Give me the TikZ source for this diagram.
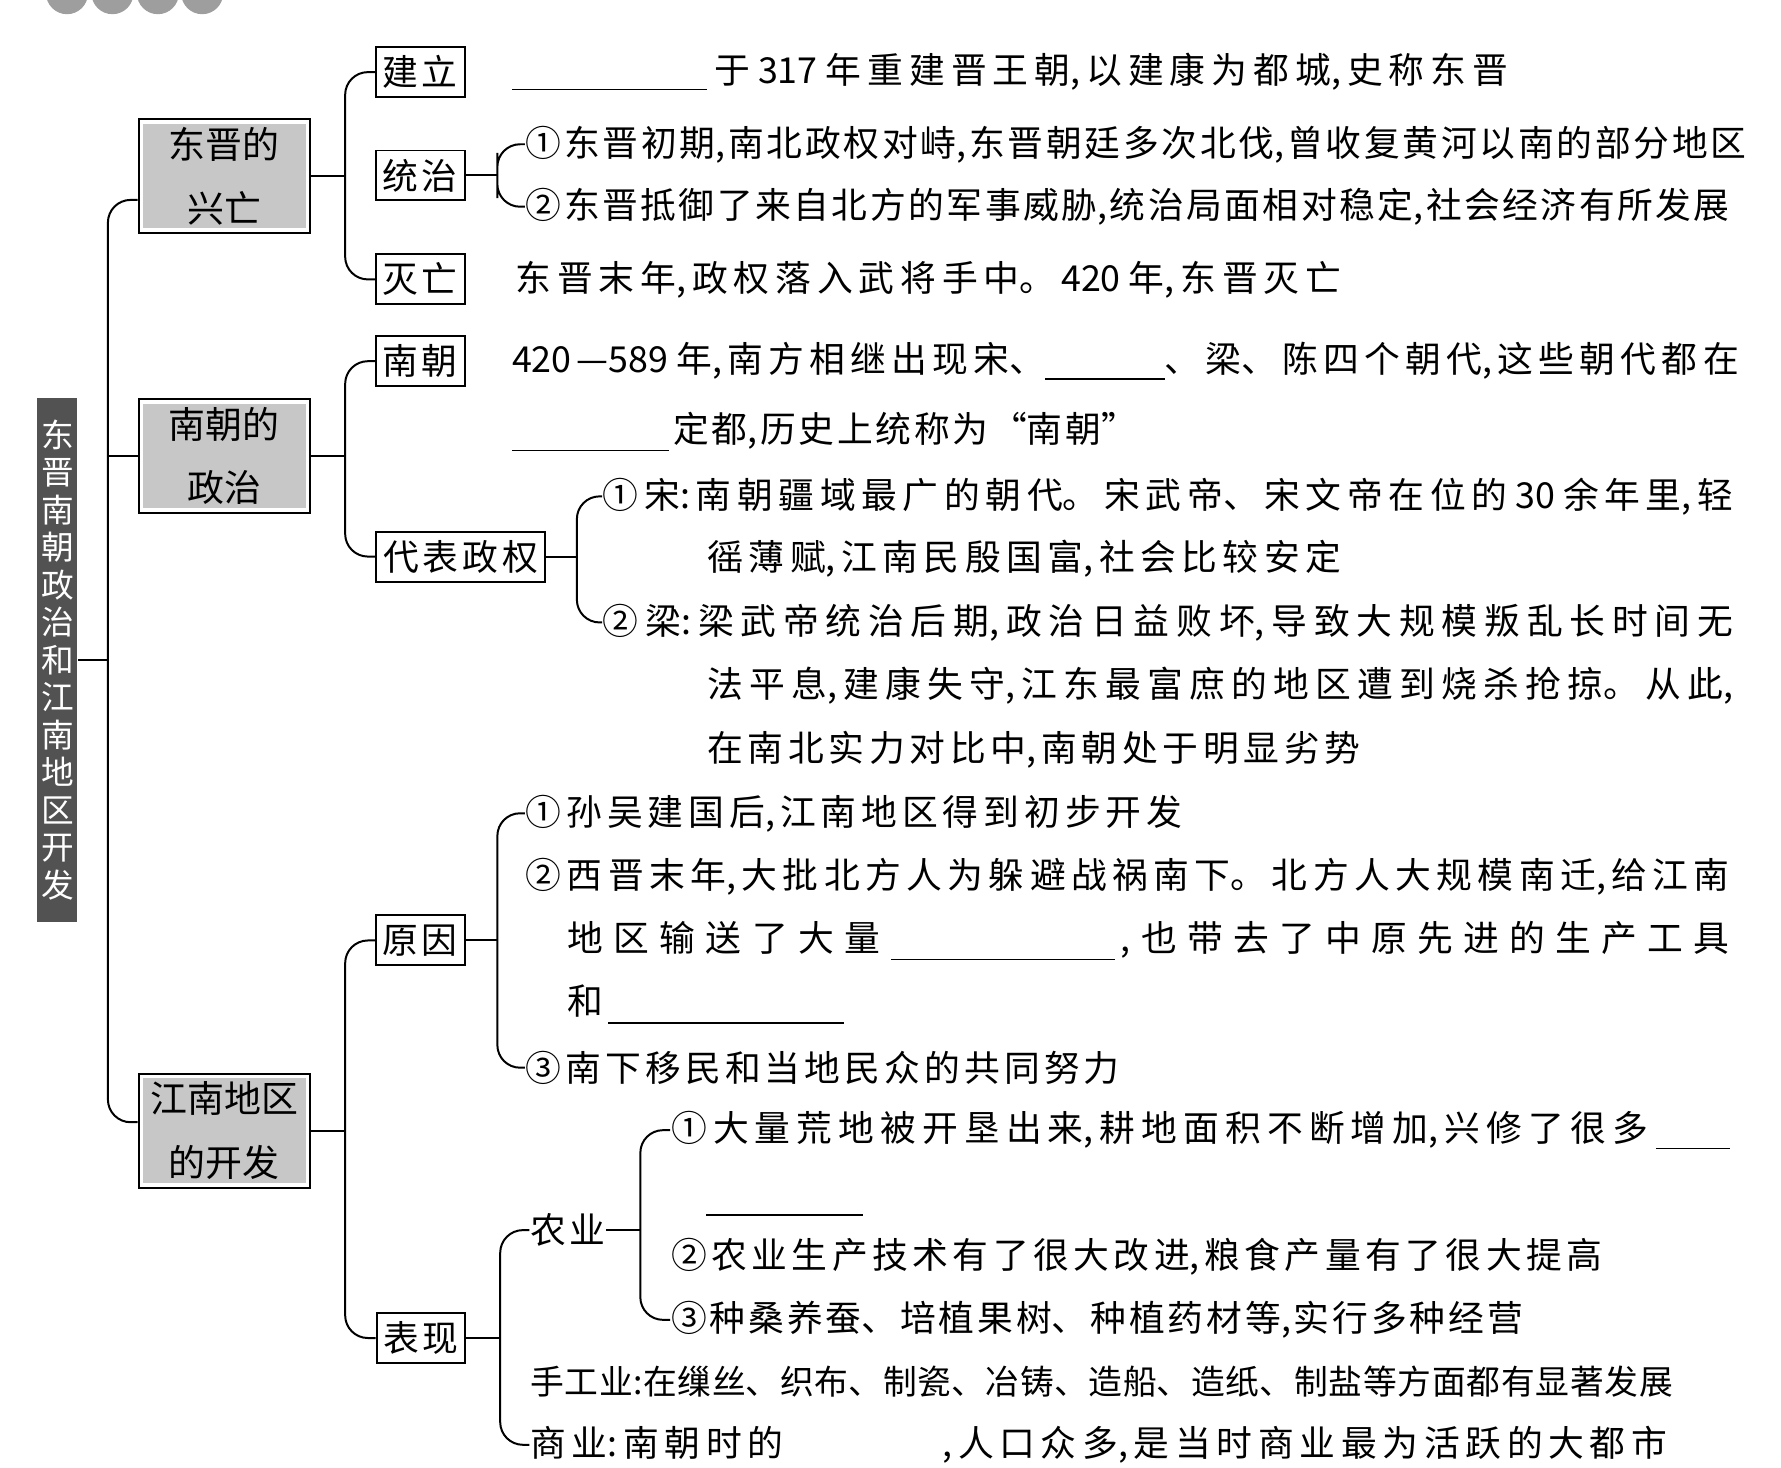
\documentclass[tikz,border=0pt]{standalone}
\usepackage{fontspec}
\newfontfamily\cjk{Noto Sans CJK SC}
\XeTeXlinebreaklocale "zh"
\XeTeXlinebreakskip=0pt plus 1fil minus 1.2pt
\newlength\px
\setlength\px{0.4pt}
\newcommand\spreadto[2]{\parbox{#1\px}{\noindent\tolerance=9999\parfillskip=0pt\relax #2}}
\newcommand\fillin[2][2.4pt]{\rule[-#1]{#2\px}{0.5pt}}
\definecolor{boxgray}{gray}{0.78}
\definecolor{bargray}{gray}{0.32}
\definecolor{dotgray}{gray}{0.62}

\begin{document}
\begin{tikzpicture}[x=0.4pt,y=-0.4pt,line width=0.7pt,
  every node/.style={font=\cjk\fontsize{12.6}{15}\selectfont,inner sep=0pt},
  tag/.style={draw,minimum width=31.2pt,minimum height=17.6pt},
  topic/.style={draw,minimum width=60.4pt,minimum height=40pt,align=center,
    font=\cjk\fontsize{13}{22.4}\selectfont,
    path picture={\fill[boxgray] ([shift={(1.6pt,1.6pt)}]path picture bounding box.south west)
      rectangle ([shift={(-1.6pt,-1.6pt)}]path picture bounding box.north east);}},
  row/.style={anchor=west},
  link/.style={rounded corners=8pt}]
\useasboundingbox (0,0) rectangle (1568,1292);

% header, cut off at the top
\begin{scope}
\clip (0,0) rectangle (1568,1292);
\foreach \cx in {59,99,139,178} \fill[dotgray] (\cx,-6) circle (18.5);
\end{scope}

\node[fill=bargray,text=white,minimum width=14pt,minimum height=184.8pt,align=center,
  font=\cjk\fontsize{11.5}{13.2}\selectfont] (title) at (50.5,581)
  {东\\晋\\南\\朝\\政\\治\\和\\江\\南\\地\\区\\开\\发};

\node[topic] (dj) at (197.5,155) {东晋的\\兴亡};
\node[topic] (nczz) at (197.5,401.5) {南朝的\\政治};
\node[topic] (jn) at (197.5,995.5) {江南地区\\的开发};

\node[tag] (jl) at (370,63.5) {\spreadto{66}{建立}};
\node[tag] (tz) at (370,154.5) {\spreadto{66}{统治}};
\node[tag] (mw) at (370,246) {\spreadto{66}{灭亡}};
\node[tag] (nc) at (370,318) {\spreadto{66}{南朝}};
\node[tag,minimum width=59.6pt] (dbzq) at (405.5,490) {\spreadto{136}{代表政权}};
\node[tag] (yy) at (370,828) {\spreadto{66}{原因}};
\node[tag] (bx) at (370.5,1178) {\spreadto{66}{表现}};

% 东晋的兴亡
\node[row] (jl1) at (450,63) {\spreadto{877}{\fillin{172}\hspace{6\px}于 317 年重建晋王朝,以建康为都城,史称东晋}};
\node[row] (tz1) at (462,127) {\spreadto{1075}{①东晋初期,南北政权对峙,东晋朝廷多次北伐,曾收复黄河以南的部分地区}};
\node[row] (tz2) at (462,182) {\spreadto{1060}{②东晋抵御了来自北方的军事威胁,统治局面相对稳定,社会经济有所发展}};
\node[row] (mw1) at (453,246) {\spreadto{727}{东晋末年,政权落入武将手中。420 年,东晋灭亡}};

% 南朝的政治
\node[row] (nc1) at (450,318) {\spreadto{1080}{420—589 年,南方相继出现宋、\fillin{105}、梁、陈四个朝代,这些朝代都在}};
\node[row] (nc2) at (450,380) {\spreadto{550}{\fillin[3.2pt]{138}\hspace{4\px}定都,历史上统称为“南朝”}};
\node[row] (dz1) at (530,437) {\spreadto{995}{①宋:南朝疆域最广的朝代。宋武帝、宋文帝在位的 30 余年里,轻}};
\node[row] (dz2) at (622,492) {\spreadto{558}{徭薄赋,江南民殷国富,社会比较安定}};
\node[row] (dz3) at (530,548) {\spreadto{995}{②梁:梁武帝统治后期,政治日益败坏,导致大规模叛乱长时间无}};
\node[row] (dz4) at (622,604) {\spreadto{903}{法平息,建康失守,江东最富庶的地区遭到烧杀抢掠。从此,}};
\node[row] (dz5) at (622,660) {\spreadto{575}{在南北实力对比中,南朝处于明显劣势}};

% 江南地区的开发
\node[row] (yy1) at (462,716) {\spreadto{578}{①孙吴建国后,江南地区得到初步开发}};
\node[row] (yy2) at (462,772) {\spreadto{1060}{②西晋末年,大批北方人为躲避战祸南下。北方人大规模南迁,给江南}};
\node[row] (yy3) at (499,828) {\spreadto{1023}{地区输送了大量\hspace{10\px}\fillin[3.2pt]{197}\hspace{5\px},也带去了中原先进的生产工具}};
\node[row] (yy4) at (499,884) {和\hspace{4\px}\fillin[3.2pt]{208}};
\node[row] (yy5) at (462,940) {\spreadto{523}{③南下移民和当地民众的共同努力}};
\node[row] (ny) at (466,1083) {\spreadto{66}{农业}};
\node[row] (ny1) at (590,995) {\spreadto{932}{①大量荒地被开垦出来,耕地面积不断增加,兴修了很多\hspace{7\px}\fillin[2.8pt]{65}}};
\draw (622,1070) -- (760,1070);
\node[row] (ny2) at (590,1106) {\spreadto{820}{②农业生产技术有了很大改进,粮食产量有了很大提高}};
\node[row] (ny3) at (590,1162) {\spreadto{750}{③种桑养蚕、培植果树、种植药材等,实行多种经营}};
\node[row,font=\cjk\fontsize{11.9}{15}\selectfont] (sg) at (466,1216) {\spreadto{1006}{手工业:在缫丝、织布、制瓷、冶铸、造船、造纸、制盐等方面都有显著发展}};
\node[row] (sy) at (466,1272) {\spreadto{1001}{商业:南朝时的\hspace{140\px},人口众多,是当时商业最为活跃的大都市}};

% trunk
\coordinate (t0) at (95,581);
\draw (title.east) -- (t0);
\draw[link] ([yshift=-8.4pt]dj.west) -| (t0) |- ([yshift=3pt]jn.west);
\draw (t0 |- nczz.west) -- (nczz.west);

% branches
\path (dj.east) ++(30,0) coordinate (m1);
\draw (dj.east) -- (m1);
\draw[link] (jl.west) -| (m1) |- (mw.west);
\path (nczz.east) ++(30,0) coordinate (m2);
\draw (nczz.east) -- (m2);
\draw[link] (nc.west) -| (m2) |- (dbzq.west);
\path (jn.east) ++(30,0) coordinate (m3);
\draw (jn.east) -- (m3);
\draw[link] (yy.west) -| (m3) |- (bx.west);

% brackets
\path (tz.east) ++(28,0) coordinate (b1);
\draw (tz.east) -- (b1);
\draw[link] (tz1.west) -| (b1) |- (tz2.west);
\path (dbzq.east) ++(27,0) coordinate (b2);
\draw (dbzq.east) -- (b2);
\draw[link] (dz1.west) -| (b2) |- (dz3.west);
\path (yy.east) ++(28,0) coordinate (b3);
\draw (yy.east) -- (b3);
\draw[link] (yy1.west) -| (b3) |- (yy5.west);
\path (bx.east) ++(30,0) coordinate (b4);
\draw (bx.east) -- (b4);
\draw[link] (ny.west) -| (b4) |- (sy.west);
\path (ny.east) ++(30,0) coordinate (b5);
\draw (ny.east) -- (b5);
\draw[link] (ny1.west) -| (b5) |- (ny3.west);
\end{tikzpicture}
\end{document}
